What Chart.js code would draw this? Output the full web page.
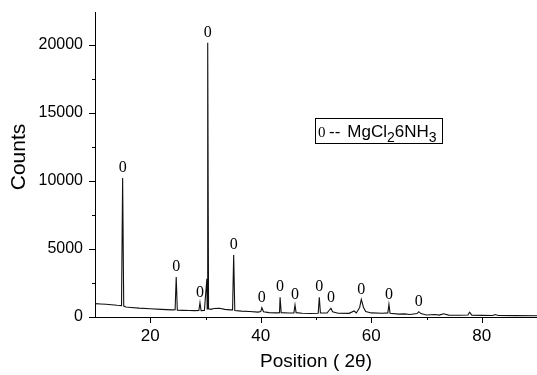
<!DOCTYPE html>
<html>
<head>
<meta charset="utf-8">
<script src="https://cdn.jsdelivr.net/npm/chart.js@4"></script>
<style>
  html, body { margin: 0; padding: 0; background: #fff; }
  #wrap { width: 537px; height: 375px; }
</style>
</head>
<body>
<div id="wrap"><canvas id="xrd"></canvas></div>
<script>
// XRD pattern (2theta in degrees, intensity in counts)
const twoTheta = [
  10.0, 11.0, 12.0, 13.0, 14.0, 14.8, 15.0, 15.2, 15.6, 16.5, 18.0, 20.0, 22.0, 24.0, 24.5, 24.7, 24.9,
  26.0, 27.0, 28.0, 28.8, 29.0, 29.2, 29.8, 30.25, 30.3, 30.4, 30.55, 31.0, 31.5, 32.5, 33.5, 34.5, 34.9,
  35.1, 35.3, 36.5, 38.0, 39.5, 40.0, 40.2, 40.5, 41.5, 43.0, 43.4, 43.5, 43.7, 45.0, 46.0, 46.2, 46.4,
  47.5, 49.0, 50.4, 50.6, 50.8, 52.0, 52.5, 52.7, 53.0, 54.0, 56.0, 56.9, 57.3, 57.9, 58.2, 58.6, 59.0,
  60.0, 62.0, 63.0, 63.2, 63.4, 65.0, 66.0, 67.0, 68.3, 68.6, 69.0, 70.0, 71.5, 72.3, 73.1, 74.0, 76.0,
  77.5, 77.8, 78.2, 80.0, 82.0, 82.4, 83.0, 86.0, 90.0
];
const counts = [
  980, 960, 940, 900, 860, 840, 10200, 800, 730, 700, 650, 610, 560, 520, 530, 2940, 500,
  490, 480, 470, 480, 1050, 470, 480, 2800, 600, 20150, 600, 560, 620, 640, 560, 520, 520,
  4560, 480, 430, 400, 360, 400, 680, 380, 320, 300, 320, 1450, 320, 290, 300, 880, 320,
  280, 260, 280, 1450, 300, 290, 550, 640, 380, 280, 270, 440, 300, 700, 1300, 700, 400,
  300, 270, 300, 930, 280, 210, 230, 180, 250, 390, 250, 150, 180, 140, 240, 140, 130,
  150, 350, 140, 120, 110, 180, 110, 100, 90
];

// peaks marked with "0" (MgCl2·6NH3)
const markX = [15.0, 24.7, 29.0, 30.4, 35.1, 40.2, 43.5, 46.2, 50.6, 52.7, 58.2, 63.2, 68.6];
const markY = [10200, 2940, 1050, 20150, 4560, 680, 1450, 880, 1450, 640, 1300, 930, 390];

// axis ticks: all tick marks, and the ones that carry a label
const xTicks = [10, 20, 30, 40, 50, 60, 70, 80, 90];
const xLabels = [20, 40, 60, 80];
const yTicks = [0, 2500, 5000, 7500, 10000, 12500, 15000, 17500, 20000];
const yLabels = [0, 5000, 10000, 15000, 20000];

const sans = "'Liberation Sans', Arial, sans-serif";
const serif = "'Liberation Serif', 'Times New Roman', serif";

const points = twoTheta.map((t, i) => ({ x: t, y: counts[i] }));

// fixed box sizes so the plot area lands where the original's does
function fixBox(size) {
  return s => {
    if (s.isHorizontal()) s.height = size; else s.width = size;
    s.paddingTop = 0;
    s.paddingBottom = 0;
    s.paddingLeft = 0;
    s.paddingRight = 0;
  };
}

// tick marks (outward, major long / minor short), y title, peak markers, legend box
const decorations = {
  id: 'decorations',
  afterDraw(chart) {
    const c = chart.ctx;
    const xs = chart.scales.x, ys = chart.scales.y;
    const area = chart.chartArea;
    c.save();
    c.strokeStyle = '#000';
    c.lineWidth = 1;
    c.beginPath();
    yTicks.forEach(v => {
      const py = Math.round(ys.getPixelForValue(v)) + 0.5;
      const len = yLabels.includes(v) ? 6 : 3;
      c.moveTo(area.left, py);
      c.lineTo(area.left - len, py);
    });
    xTicks.forEach(v => {
      if (v === 10) return;
      const px = Math.round(xs.getPixelForValue(v)) + 0.5;
      const len = xLabels.includes(v) ? 6 : 3;
      c.moveTo(px, area.bottom);
      c.lineTo(px, area.bottom + len);
    });
    c.stroke();

    c.fillStyle = '#000';

    // y title
    c.save();
    c.translate(19, 157);
    c.rotate(-Math.PI / 2);
    c.font = '21px ' + sans;
    c.textAlign = 'center';
    c.textBaseline = 'middle';
    c.fillText('Counts', 0, 0);
    c.restore();

    c.font = '16px ' + serif;
    c.textAlign = 'center';
    c.textBaseline = 'middle';
    markX.forEach((mx, i) => {
      c.fillText('0', xs.getPixelForValue(mx), ys.getPixelForValue(markY[i]) - 10);
    });

    // legend box
    const bx = area.left + 220, by = area.top + 106;
    c.strokeRect(bx + 0.5, by + 0.5, 127, 25);
    c.textAlign = 'left';
    c.textBaseline = 'alphabetic';
    const base = by + 19;
    c.font = '15px ' + serif;
    c.fillText('0', bx + 3, base);
    let x = bx + 14;
    const parts = [['--', 0], ['MgCl', 0], ['2', 1], ['6NH', 0], ['3', 1]];
    parts.forEach(([txt, sub], k) => {
      c.font = (sub ? '14px ' : '17px ') + sans;
      c.fillText(txt, x, base + (sub ? 5 : 0));
      x += c.measureText(txt).width + (k === 0 ? 7 : 0);
    });
    c.restore();
  }
};

const chart = new Chart(document.getElementById('xrd'), {
  type: 'line',
  data: {
    datasets: [{
      data: points,
      borderColor: '#111',
      borderWidth: 1.1,
      pointRadius: 0,
      tension: 0,
      fill: false
    }]
  },
  options: {
    responsive: true,
    maintainAspectRatio: false,
    animation: false,
    layout: { padding: { top: 12, left: 0, right: 0, bottom: 0 } },
    plugins: {
      legend: { display: false },
      tooltip: { enabled: false }
    },
    scales: {
      x: {
        type: 'linear',
        min: 10,
        max: 90,
        afterBuildTicks: s => { s.ticks = xTicks.map(v => ({ value: v })); },
        afterFit: fixBox(58),
        grid: { display: true, drawOnChartArea: false, drawTicks: false },
        border: { display: true, color: '#000', width: 1 },
        ticks: {
          autoSkip: false,
          maxRotation: 0,
          padding: 9,
          color: '#000',
          font: { family: sans, size: 17 },
          callback: v => xLabels.includes(Math.round(v)) ? String(Math.round(v)) : ''
        },
        title: {
          display: true,
          text: 'Position ( 2\u03b8)',
          color: '#000',
          font: { family: sans, size: 19 },
          padding: { top: 0, bottom: 2 }
        }
      },
      y: {
        type: 'linear',
        min: 0,
        max: 22400,
        afterBuildTicks: s => { s.ticks = yTicks.map(v => ({ value: v })); },
        afterFit: fixBox(95),
        grid: { display: true, drawOnChartArea: false, drawTicks: false },
        border: { display: true, color: '#000', width: 1 },
        ticks: {
          autoSkip: false,
          padding: 12,
          color: '#000',
          font: { family: sans, size: 16 },
          callback: v => yLabels.includes(Math.round(v)) ? String(Math.round(v)) : ''
        },
        title: { display: false }
      }
    }
  },
  plugins: [decorations]
});
</script>
</body>
</html>
